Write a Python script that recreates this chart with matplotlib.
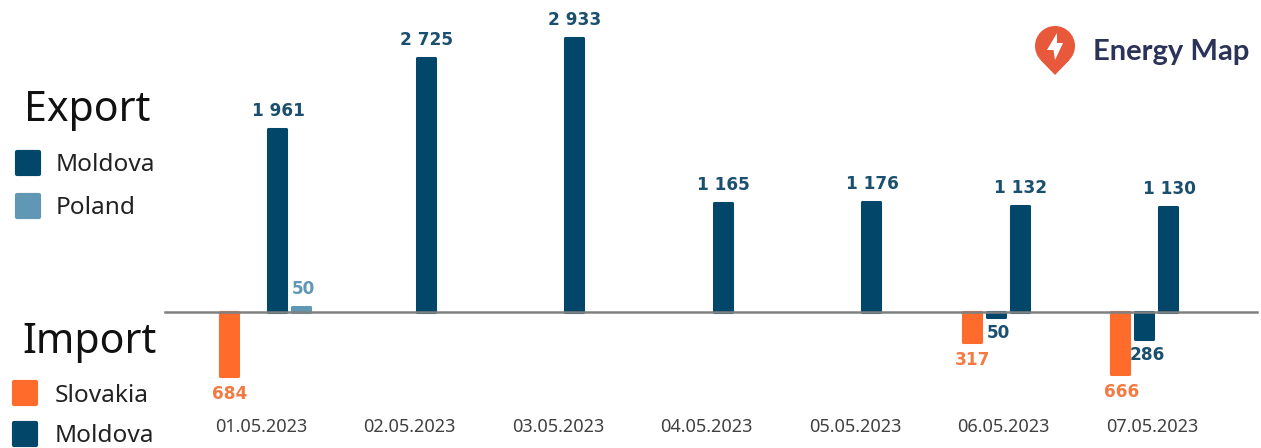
import numpy as np
import matplotlib.pyplot as plt
from matplotlib.patches import Circle, Polygon, Rectangle

# --- data ---
dates = ["01.05.2023", "02.05.2023", "03.05.2023", "04.05.2023",
         "05.05.2023", "06.05.2023", "07.05.2023"]
export_moldova = [1961, 2725, 2933, 1165, 1176, 1132, 1130]
export_poland = [50, 0, 0, 0, 0, 0, 0]
import_slovakia = [684, 0, 0, 0, 0, 317, 666]
import_moldova = [0, 0, 0, 0, 0, 50, 286]

DARK = "#02466a"
LIGHT = "#5f97b5"
ORANGE = "#ff6b2b"

W, H = 1261, 448
X0, DX = 261, 148.55     # pixel of first date, pixels per date
Y0, PX = 312, 0.09325    # pixel of zero line, pixels per MWh
SLOT = 24 / DX
BAR_W = 18 / DX

fig = plt.figure(figsize=(W / 100, H / 100), dpi=100, facecolor="white")
plt.rcParams["font.family"] = ["Noto Sans", "DejaVu Sans"]

ax = fig.add_axes([0, 0, 1, 1])
ax.set_xlim(-X0 / DX, (W - X0) / DX)
ax.set_ylim(-(H - Y0) / PX, Y0 / PX)
ax.axis("off")


def bars(values, slot, sign, color, text_color, dx=0, dy=0):
    x = np.arange(len(values)) + slot * SLOT
    vals = sign * np.array(values)
    rects = ax.bar(x, vals, width=BAR_W, color=color, edgecolor=color, linewidth=2.2)
    for r, v in zip(rects, values):
        r.set_joinstyle("round")
        if v == 0:
            r.set_visible(False)
            continue
        txt = f"{v:,}".replace(",", " ")
        ax.annotate(txt, (r.get_x() + BAR_W / 2, sign * v), xytext=(dx * 0.72, sign * (18 + dy) * 0.72),
                    textcoords="offset points", ha="center", va="center",
                    fontsize=12.2, fontweight="bold", color=text_color, family="DejaVu Sans")


bars(import_slovakia, -32 / 24, -1, ORANGE, "#f47a42", dx=1)
bars(import_moldova, -8 / 24, -1, DARK, "#1a4f6e", dx=3, dy=-2)
bars(export_moldova, 16 / 24, 1, DARK, "#1a4f6e", dx=1)
bars(export_poland, 40 / 24, 1, LIGHT, LIGHT, dx=2)

ax.plot([(165 - X0) / DX, (1257 - X0) / DX], [0, 0], color="#7f8080", lw=1.8, zorder=5)

for i, d in enumerate(dates):
    ax.annotate(d, (i, 0), xytext=(0, -(427 - Y0) * 0.72), textcoords="offset points",
                ha="center", va="center", fontsize=13, color="#404040")

# --- legend and logo, in pixel coordinates ---
ov = fig.add_axes([0, 0, 1, 1], facecolor="none")
ov.set_xlim(0, W)
ov.set_ylim(H, 0)
ov.axis("off")

ov.text(87, 110, "Export", fontsize=29.5, color="#111111", ha="center", va="center")
ov.text(89, 342, "Import", fontsize=29.5, color="#111111", ha="center", va="center")

legend_items = [("Moldova", DARK, 15, 150, 56, 165),
                ("Poland", LIGHT, 15, 193, 56, 208),
                ("Slovakia", ORANGE, 12, 380, 55, 396),
                ("Moldova", DARK, 12, 421, 55, 436)]
for label, color, bx, by, tx, ty in legend_items:
    ov.add_patch(Rectangle((bx + 2, by + 2), 22, 22, facecolor=color, edgecolor=color,
                           lw=3, joinstyle="round"))
    ov.text(tx, ty, label, fontsize=17.6, color="#222222", va="center")

LOGO = "#e8583a"
ov.add_patch(Circle((1055, 46), 20, facecolor=LOGO, edgecolor="none"))
ov.add_patch(Polygon([(1040.5, 60), (1055, 75), (1069.5, 60)], facecolor=LOGO, edgecolor="none"))
ov.add_patch(Polygon([(1057, 33), (1047, 50), (1053.5, 50), (1055, 60), (1063, 43), (1057, 43)],
                     facecolor="white", edgecolor="none"))
ov.text(1093, 52, "Energy Map", fontsize=21, fontweight="bold", family="Lato",
        color="#2b3358", va="center")

fig.savefig("out.png", dpi=100)
